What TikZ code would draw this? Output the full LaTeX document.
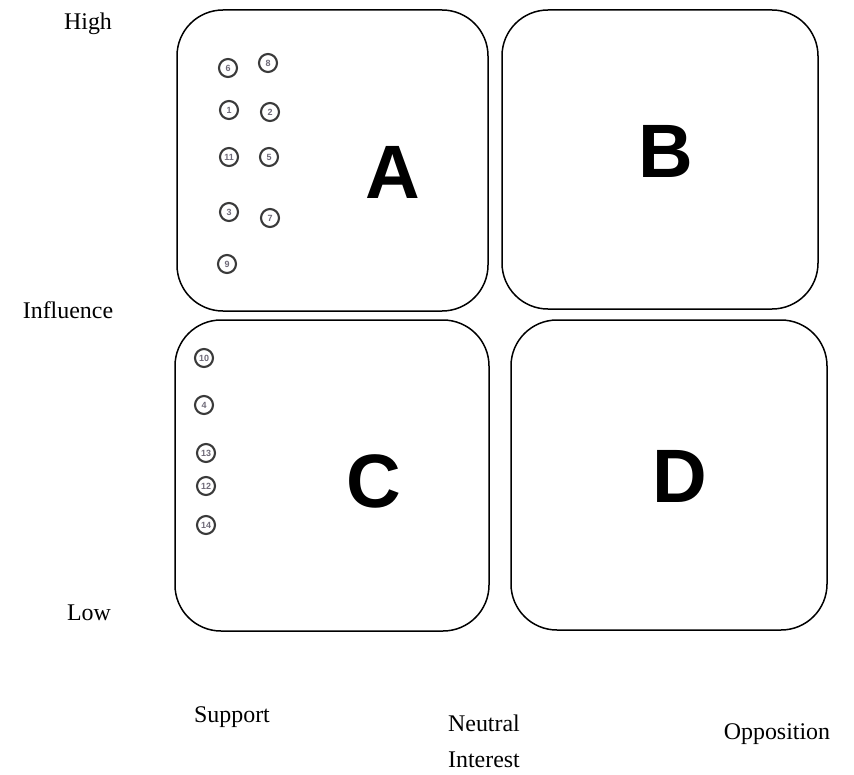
\documentclass[tikz,border=0pt]{standalone}
\usepackage{fontspec}
\setmainfont{Liberation Serif}
\newfontfamily\arialfont{Liberation Sans}
\usetikzlibrary{positioning}
\definecolor{RingGrey}{HTML}{3A3A3A}
\definecolor{NumGrey}{HTML}{6E6A78}

\begin{document}
\begin{tikzpicture}[x=1bp,y=-1bp,
  quad/.style={rectangle,rounded corners=46bp,draw=black,line width=1.5bp,fill=white},
  letter/.style={font=\arialfont\bfseries\fontsize{76}{76}\selectfont},
  axislabel/.style={font=\fontsize{24}{36}\selectfont,align=center},
  member/.style={circle,draw=RingGrey,line width=2.1bp,minimum size=18bp,inner sep=0pt,text=NumGrey,font=\arialfont\bfseries\fontsize{9}{9}\selectfont}
]
\useasboundingbox (0,0) rectangle (854,775);
% quadrants
\node[quad,minimum width=311bp,minimum height=301bp] (quadA) at (332.5,160.5) {};
\node[quad,minimum width=316bp,minimum height=299bp] (quadB) at (660,159.5) {};
\node[quad,minimum width=314bp,minimum height=311bp] (quadC) at (332,475.5) {};
\node[quad,minimum width=316bp,minimum height=310bp] (quadD) at (669,475) {};
\node[letter] (letterA) at (393,172) {A};
\node[letter] (letterB) at (666,151) {B};
\node[letter] (letterC) at (374,481) {C};
\node[letter] (letterD) at (680,476) {D};
% stakeholders
\node[member] (s6) at (228,68) {6};
\node[member] (s8) at (268,63) {8};
\node[member] (s1) at (229,110) {1};
\node[member] (s2) at (270,112) {2};
\node[member] (s11) at (229,157) {11};
\node[member] (s5) at (269,157) {5};
\node[member] (s3) at (229,212) {3};
\node[member] (s7) at (270,218) {7};
\node[member] (s9) at (227,264) {9};
\node[member] (s10) at (204,358) {10};
\node[member] (s4) at (204,405) {4};
\node[member] (s13) at (206,453) {13};
\node[member] (s12) at (206,486) {12};
\node[member] (s14) at (206,525) {14};
% axes
\node[axislabel] (high) at (88,24) {High};
\node[axislabel] (influence) at (68,310) {Influence};
\node[axislabel] (low) at (89,613) {Low};
\node[axislabel] (support) at (232,717) {Support};
\node[axislabel] (neutral) at (484,741) {Neutral\\Interest};
\node[axislabel] (opposition) at (777,734) {Opposition};
\end{tikzpicture}
\end{document}
